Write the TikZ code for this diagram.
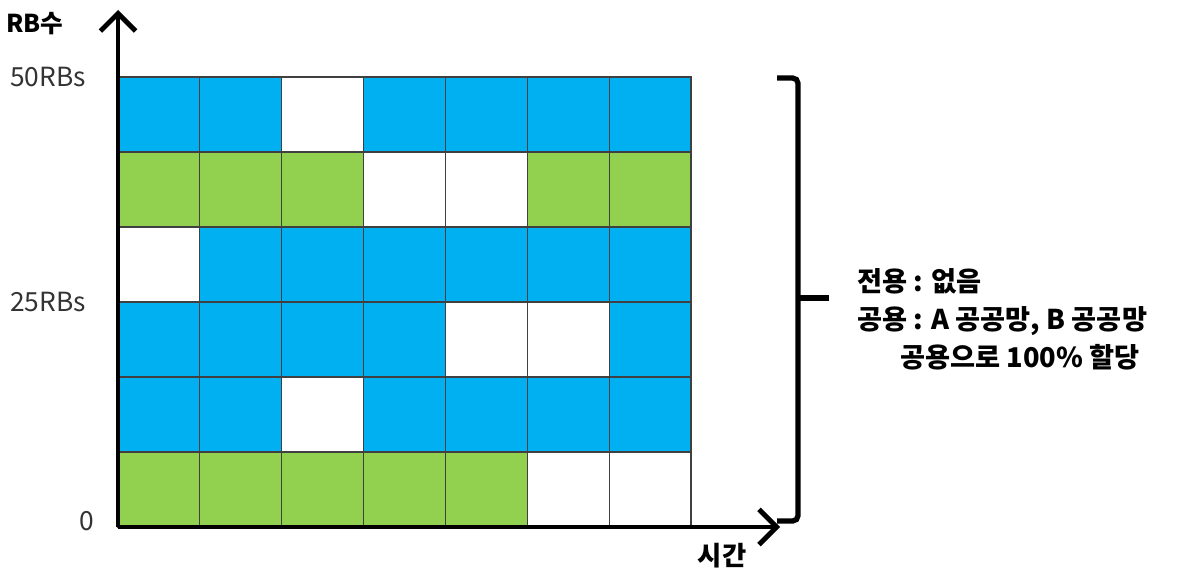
\documentclass[tikz,border=0pt]{standalone}
\usepackage{fontspec}
\newfontfamily\kr{Noto Sans CJK KR}
\usetikzlibrary{arrows.meta,positioning,calc}
\definecolor{cb}{HTML}{00B0F0}
\definecolor{cg}{HTML}{92D050}
\definecolor{cw}{HTML}{FFFFFF}
\definecolor{lbl}{HTML}{333333}

\begin{document}
\begin{tikzpicture}[x=0.02cm,y=-0.02cm,
   font=\kr\fontsize{15}{17}\selectfont,
   cell/.style={draw=black!75,line width=0.7pt},
   axis/.style={line width=2.8pt,-{Straight Barb[length=10pt,width=20pt,line width=2.8pt]}},
   tick/.style={text=lbl},
   note/.style={anchor=west,font=\kr\fontsize{15.5}{18}\selectfont\bfseries,inner sep=0pt}]
  \useasboundingbox (0,0) rectangle (1192,571);
  % RB grid, rows from top
  \foreach \r/\lst in {0/{b,b,w,b,b,b,b},1/{g,g,g,w,w,g,g},2/{w,b,b,b,b,b,b},
                       3/{b,b,b,b,w,w,b},4/{b,b,w,b,b,b,b},5/{g,g,g,g,g,w,w}}
    \foreach \c [count=\i from 0] in \lst
      \draw[cell,fill=c\c] (118+\i*81.86,77+\r*75) rectangle ++(81.86,75);
  % axes
  \coordinate (O) at (118,527);
  \coordinate (ytop) at (118,10);
  \coordinate (xend) at (780,527);
  \draw[axis] (O) -- (ytop);
  \draw[axis] (O) -- (xend);
  \node[font=\kr\fontsize{14}{16}\selectfont\bfseries] (ylab) at (35,24) {RB수};
  \node[font=\kr\fontsize{15}{17}\selectfont\bfseries] (xlab) at (722,556) {시간};
  \node[tick] (t50) at (48,77) {50RBs};
  \node[tick] (t25) at (48,302) {25RBs};
  \node[tick] (t0) at (87,521) {0};
  % brace
  \coordinate (b1) at (777,78);
  \coordinate (b2) at (798,78);
  \coordinate (b3) at (798,521);
  \coordinate (b4) at (777,521);
  \coordinate (bm) at (798,298);
  \coordinate (bt) at (829,298);
  \draw[line width=3pt,rounded corners=3pt] (b1) -- (b2) -- (b3) -- (b4);
  \draw[line width=3pt] (bm) -- (bt);
  % notes
  \node[note] (n1) at (857,281) {전용 : 없음};
  \node[note] (n2) at (857,321) {공용 : A 공공망, B 공공망};
  \node[note] (n3) at (900,357) {공용으로 100\% 할당};
\end{tikzpicture}
\end{document}
